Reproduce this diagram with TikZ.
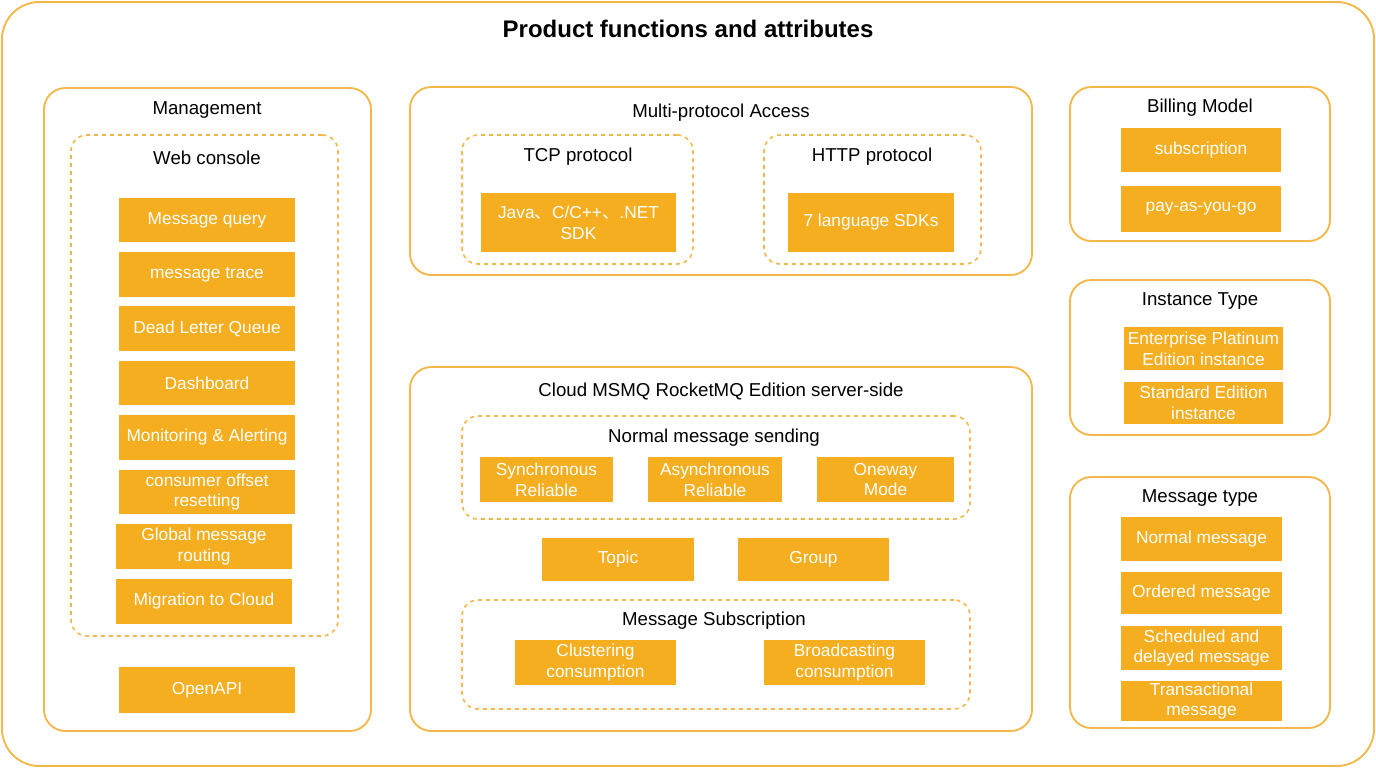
\documentclass[tikz,border=0pt]{standalone}
\usepackage{fontspec}
\setmainfont{Liberation Sans}
\newfontfamily\cjk{Noto Sans CJK SC}
\definecolor{og}{HTML}{F5AE1F}
\definecolor{ln}{HTML}{F3B84A}
\tikzset{
 panel/.style={draw=ln,line width=1.4pt,rounded corners=16pt,inner sep=0pt},
 dpanel/.style={draw=ln,line width=1.2pt,dashed,rounded corners=12pt,inner sep=0pt},
 fbox/.style={fill=og,text=white,inner sep=0pt,align=center,font=\fontsize{13}{15.5}\selectfont},
 ttl/.style={font=\fontsize{14}{14}\selectfont,text=black}
}
\newcommand\bx[7]{\node[#1,minimum width={(#4-#2)*0.75pt},minimum height={(#5-#3)*0.75pt}] (#6) at ({(#2+#4)/2},{(#3+#5)/2}) {#7};}
\begin{document}
\begin{tikzpicture}[x=0.75pt,y=-0.75pt]
\useasboundingbox (0,0) rectangle (1376,768);
\node[draw=ln,line width=1.4pt,rounded corners=28pt,minimum width={1372*0.75pt},minimum height={764*0.75pt}] (frame) at (688,384) {};
\node[font=\bfseries\fontsize{18}{18}\selectfont] (title) at (688,29) {Product functions and attributes};
% Management
\bx{panel}{44}{88}{371}{731}{mgmt}{}
\node[ttl] (mgmtt) at (207,110) {Management};
\bx{dpanel}{71}{135}{338}{636}{web}{}
\node[ttl] (webt) at (207,158) {Web console};
\bx{fbox}{119}{198}{295}{242}{m1}{Message query}
\bx{fbox}{119}{252}{295}{297}{m2}{message trace}
\bx{fbox}{119}{306}{295}{351}{m3}{Dead Letter Queue}
\bx{fbox}{119}{361}{295}{405}{m4}{Dashboard}
\bx{fbox}{119}{415}{295}{460}{m5}{Monitoring \& Alerting}
\bx{fbox}{119}{470}{295}{514}{m6}{consumer offset\\resetting}
\bx{fbox}{116}{524}{292}{569}{m7}{Global message\\routing}
\bx{fbox}{116}{579}{292}{624}{m8}{Migration to Cloud}
\bx{fbox}{119}{667}{295}{713}{m9}{OpenAPI}
% Multi-protocol
\bx{panel}{410}{87}{1032}{275}{mp}{}
\node[ttl] (mpt) at (721,113) {Multi-protocol Access};
\bx{dpanel}{462}{135}{693}{264}{tcp}{}
\node[ttl] (tcpt) at (578,157) {TCP protocol};
\bx{fbox}{481}{193}{676}{252}{tcpb}{Java{\cjk 、}C/C++{\cjk 、}.NET\\SDK}
\bx{dpanel}{764}{135}{981}{264}{http}{}
\node[ttl] (httpt) at (872,157) {HTTP protocol};
\bx{fbox}{788}{193}{954}{252}{httpb}{7 language SDKs}
% Cloud
\bx{panel}{410}{367}{1032}{731}{cl}{}
\node[ttl] (clt) at (721,391) {Cloud MSMQ RocketMQ Edition server-side};
\bx{dpanel}{462}{416}{970}{519}{nm}{}
\node[ttl] (nmt) at (714,438) {Normal message sending};
\bx{fbox}{480}{457}{613}{502}{n1}{Synchronous\\Reliable}
\bx{fbox}{648}{457}{782}{502}{n2}{Asynchronous\\Reliable}
\bx{fbox}{817}{457}{954}{502}{n3}{Oneway\\Mode}
\bx{fbox}{542}{538}{694}{581}{topic}{Topic}
\bx{fbox}{738}{538}{889}{581}{group}{Group}
\bx{dpanel}{462}{600}{970}{709}{ms}{}
\node[ttl] (mst) at (714,621) {Message Subscription};
\bx{fbox}{515}{640}{676}{685}{s1}{Clustering\\consumption}
\bx{fbox}{764}{640}{925}{685}{s2}{Broadcasting\\consumption}
% Billing
\bx{panel}{1070}{87}{1330}{241}{bill}{}
\node[ttl] (billt) at (1200,108) {Billing Model};
\bx{fbox}{1121}{128}{1281}{172}{b1}{subscription}
\bx{fbox}{1121}{186}{1281}{232}{b2}{pay-as-you-go}
% Instance
\bx{panel}{1070}{280}{1330}{435}{inst}{}
\node[ttl] (instt) at (1200,301) {Instance Type};
\bx{fbox}{1124}{327}{1283}{370}{i1}{Enterprise Platinum\\Edition instance}
\bx{fbox}{1124}{382}{1283}{424}{i2}{Standard Edition\\instance}
% Message type
\bx{panel}{1070}{477}{1330}{728}{mt}{}
\node[ttl] (mtt) at (1200,498) {Message type};
\bx{fbox}{1121}{517}{1282}{561}{t1}{Normal message}
\bx{fbox}{1121}{572}{1282}{614}{t2}{Ordered message}
\bx{fbox}{1121}{626}{1282}{670}{t3}{Scheduled and\\delayed message}
\bx{fbox}{1121}{681}{1282}{721}{t4}{Transactional\\message}
\end{tikzpicture}
\end{document}
